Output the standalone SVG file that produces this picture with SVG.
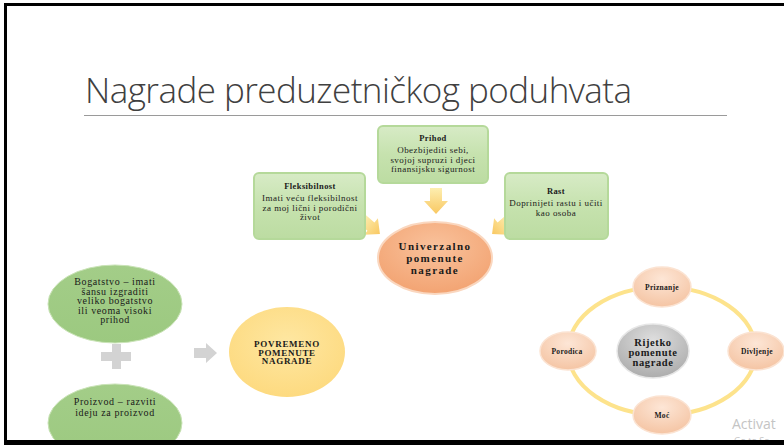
<svg xmlns="http://www.w3.org/2000/svg" width="784" height="445" viewBox="0 0 784 445">
<style>
.t{font-family:"Liberation Serif","Times New Roman",serif;fill:#1a1a1a;text-anchor:middle}
.b{font-weight:bold}
.box{fill:url(#gBox);stroke:#b5d99a;stroke-width:2}
.green{fill:url(#gGreen);stroke:#c9e3b6;stroke-width:1}
.peach{fill:url(#gPeach);stroke:#fbe3d2;stroke-width:1.5}
.bt{font-size:9px;letter-spacing:0.45px}
.bh{font-size:8.5px;letter-spacing:0.4px}
.el{font-size:10px;letter-spacing:0.6px}
.sm{font-size:7.5px;letter-spacing:0.3px}
</style>
<defs>
<linearGradient id="gBox" x1="0" y1="0" x2="0" y2="1">
<stop offset="0" stop-color="#d7ebc6"/><stop offset="0.5" stop-color="#c6e2ae"/><stop offset="1" stop-color="#bcdca2"/>
</linearGradient>
<linearGradient id="gGreen" x1="0" y1="0" x2="0" y2="1">
<stop offset="0" stop-color="#a3cd88"/><stop offset="1" stop-color="#9cc980"/>
</linearGradient>
<radialGradient id="gOrange" cx="0.5" cy="0.35" r="0.7">
<stop offset="0" stop-color="#f9c29c"/><stop offset="1" stop-color="#f2a16f"/>
</radialGradient>
<radialGradient id="gYellow" cx="0.5" cy="0.4" r="0.7">
<stop offset="0" stop-color="#fee7a2"/><stop offset="1" stop-color="#fdd87a"/>
</radialGradient>
<radialGradient id="gPeach" cx="0.5" cy="0.3" r="0.75">
<stop offset="0" stop-color="#fde6d6"/><stop offset="1" stop-color="#f4c2a0"/>
</radialGradient>
<radialGradient id="gGray" cx="0.5" cy="0.3" r="0.75">
<stop offset="0" stop-color="#dedede"/><stop offset="1" stop-color="#a9a9a9"/>
</radialGradient>
<linearGradient id="gArrow" x1="0" y1="0" x2="1" y2="0">
<stop offset="0" stop-color="#fdeeb0"/><stop offset="1" stop-color="#f9c862"/>
</linearGradient>
<path id="blockArrow" d="M0,-6 H13 V-12 L26,0 L13,12 V6 H0 Z"/>
</defs>

<rect x="0" y="0" width="784" height="445" fill="#ffffff"/>

<g id="title">
<text x="85" y="103" font-family="'Open Sans','Noto Sans',sans-serif" font-weight="300" font-size="35" fill="#404040" textLength="547" lengthAdjust="spacing">Nagrade preduzetničkog poduhvata</text>
<line x1="84" y1="115.5" x2="727" y2="115.5" stroke="#9a9a9a" stroke-width="1"/>
</g>

<g id="connectors">
<use href="#blockArrow" fill="url(#gArrow)" transform="translate(436,188) rotate(90)"/>
<use href="#blockArrow" fill="url(#gArrow)" transform="translate(362,219) rotate(40) scale(0.9)"/>
<use href="#blockArrow" fill="url(#gArrow)" transform="translate(510,219) rotate(140) scale(0.9)"/>
<path d="M194,348 H206 V343 L217,353 L206,363 V358 H194 Z" fill="#d3d3d3"/>
<ellipse cx="662" cy="351" rx="94" ry="64" fill="none" stroke="#fde38c" stroke-width="4"/>
</g>

<g id="fleksibilnost">
<rect class="box" x="254" y="173" width="111" height="66" rx="5"/>
<text class="t b bh" x="310" y="189">Fleksibilnost</text>
<text class="t bt"><tspan x="310" y="201">Imati veću fleksibilnost</tspan><tspan x="310" y="210.5">za moj lični i porodični</tspan><tspan x="310" y="220">život</tspan></text>
</g>

<g id="prihod">
<rect class="box" x="378" y="126" width="110" height="57" rx="5"/>
<text class="t b bh" x="433" y="141">Prihod</text>
<text class="t bt"><tspan x="433" y="153">Obezbijediti sebi,</tspan><tspan x="433" y="162.5">svojoj supruzi i djeci</tspan><tspan x="433" y="172">finansijsku sigurnost</tspan></text>
</g>

<g id="rast">
<rect class="box" x="505" y="173" width="103" height="66" rx="5"/>
<text class="t b bh" x="556" y="194">Rast</text>
<text class="t bt"><tspan x="556" y="206">Doprinijeti rastu i učiti</tspan><tspan x="556" y="215.5">kao osoba</tspan></text>
</g>

<g id="univerzalno">
<ellipse cx="435" cy="258" rx="57" ry="36" fill="url(#gOrange)" stroke="#fad7bf" stroke-width="2"/>
<text class="t b" font-size="11" letter-spacing="1.4" fill="#2a2a2a"><tspan x="435" y="250">Univerzalno</tspan><tspan x="435" y="262">pomenute</tspan><tspan x="435" y="274">nagrade</tspan></text>
</g>

<g id="bogatstvo">
<ellipse class="green" cx="115" cy="304" rx="67" ry="39"/>
<text class="t el"><tspan x="115" y="285">Bogatstvo – imati</tspan><tspan x="115" y="294.5">šansu izgraditi</tspan><tspan x="115" y="304">veliko bogatstvo</tspan><tspan x="115" y="313.5">ili veoma visoki</tspan><tspan x="115" y="323">prihod</tspan></text>
</g>

<g id="plus">
<path d="M112,344 H121 V352 H131 V361 H121 V369 H112 V361 H101 V352 H112 Z" fill="#d3d3d3"/>
</g>

<g id="proizvod">
<ellipse class="green" cx="115" cy="423" rx="67" ry="39"/>
<text class="t el"><tspan x="115" y="405">Proizvod – razviti</tspan><tspan x="115" y="415.5">ideju za proizvod</tspan></text>
</g>

<g id="povremeno">
<ellipse cx="287" cy="352" rx="58" ry="45" fill="url(#gYellow)"/>
<text class="t b" font-size="9" letter-spacing="0.7"><tspan x="287" y="347">POVREMENO</tspan><tspan x="287" y="355.5">POMENUTE</tspan><tspan x="287" y="364">NAGRADE</tspan></text>
</g>

<g id="rijetko">
<ellipse cx="653" cy="351" rx="36" ry="27" fill="url(#gGray)" stroke="#e6e6e6" stroke-width="1.5"/>
<text class="t b" font-size="10.5" letter-spacing="0.6"><tspan x="653" y="346">Rijetko</tspan><tspan x="653" y="356">pomenute</tspan><tspan x="653" y="366">nagrade</tspan></text>
</g>

<g id="priznanje">
<ellipse class="peach" cx="662" cy="287" rx="29" ry="20"/>
<text class="t b sm" x="662" y="290">Priznanje</text>
</g>
<g id="porodica">
<ellipse class="peach" cx="568" cy="351" rx="28" ry="19"/>
<text class="t b sm" x="567" y="354">Porodica</text>
</g>
<g id="divljenje">
<ellipse class="peach" cx="756" cy="351" rx="28" ry="19"/>
<text class="t b sm" x="757" y="354">Divljenje</text>
</g>
<g id="moc">
<ellipse class="peach" cx="662" cy="415" rx="29" ry="19"/>
<text class="t b sm" x="662" y="418">Moć</text>
</g>

<g id="watermark" font-family="'Open Sans','Noto Sans',sans-serif" fill="#c4c4c4">
<text x="732" y="429" font-size="14">Activat</text>
<text x="734" y="444" font-size="9">Go to Se</text>
</g>

<g id="frame">
<rect x="4" y="3" width="780" height="3" fill="#000"/>
<rect x="4" y="3" width="3" height="442" fill="#000"/>
<rect x="4" y="440" width="780" height="5" fill="#000"/>
</g>
</svg>
